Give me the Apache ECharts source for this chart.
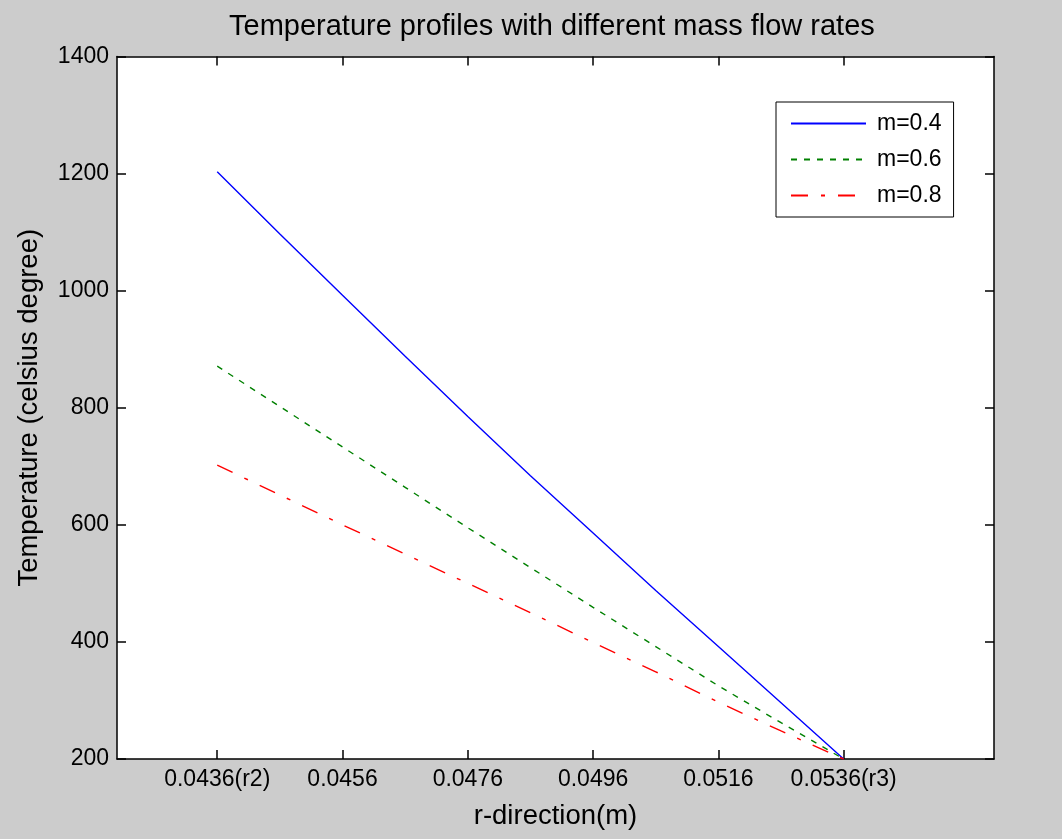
<!DOCTYPE html>
<html>
<head>
<meta charset="utf-8">
<script src="https://cdn.jsdelivr.net/npm/echarts@6/dist/echarts.min.js"></script>
<style>
html,body{margin:0;padding:0;background:#cccccc;}
#chart{width:1062px;height:839px;}
</style>
</head>
<body>
<div id="chart"></div>
<script>
// ---- data ----
const rValues = [0.0436, 0.0446, 0.0456, 0.0466, 0.0476, 0.0486, 0.0496, 0.0506, 0.0516, 0.0526, 0.0536];
const tempM04 = [1203, 1097, 992, 888, 785, 684, 586, 488, 392, 296, 200];
const tempM06 = [871, 802, 733, 664, 595, 527, 459, 392, 325, 262, 200];
const tempM08 = [702, 651, 600, 550, 500, 450, 399, 349, 297, 248, 200];
const seriesNames = ['m=0.4', 'm=0.6', 'm=0.8'];
const xTickValues = [0.0436, 0.0456, 0.0476, 0.0496, 0.0516, 0.0536];
const xTickLabels = ['0.0436(r2)', '0.0456', '0.0476', '0.0496', '0.0516', '0.0536(r3)'];
const titleText = 'Temperature profiles with different mass flow rates';
const xName = 'r-direction(m)';
const yName = 'Temperature (celsius degree)';

const FONT = 'Liberation Sans, Arial, sans-serif';
const pairs = arr => rValues.map((r, i) => [r, arr[i]]);
const tickLabel = v => {
  let best = 0;
  xTickValues.forEach((t, i) => { if (Math.abs(t - v) < Math.abs(xTickValues[best] - v)) best = i; });
  return xTickLabels[best];
};

const chart = echarts.init(document.getElementById('chart'));
const axisLine = { show: true, onZero: false, lineStyle: { color: '#000', width: 1.5 } };
const tickStyle = { color: '#000', width: 1.5 };
chart.setOption({
  backgroundColor: '#cccccc',
  animation: false,
  title: {
    text: titleText,
    left: 229, top: 12, padding: 0,
    textStyle: { fontFamily: FONT, fontSize: 29, fontWeight: 'normal', color: '#000' }
  },
  legend: {
    orient: 'vertical',
    left: 776, top: 102,
    padding: [10, 12, 10, 14],
    itemWidth: 75, itemHeight: 14, itemGap: 13,
    backgroundColor: '#fff',
    borderColor: '#000', borderWidth: 1,
    itemStyle: { opacity: 0, borderWidth: 0 },
    textStyle: { fontFamily: FONT, fontSize: 23, color: '#000', lineHeight: 23, padding: [0, 0, 0, 6] },
    data: seriesNames
  },
  grid: { left: 117, top: 56.5, right: 68, bottom: 80, show: true, backgroundColor: '#fff', borderWidth: 0 },
  xAxis: [{
    type: 'value', min: 0.042, max: 0.056, position: 'bottom',
    name: xName, nameLocation: 'middle', nameGap: 43,
    nameTextStyle: { fontFamily: FONT, fontSize: 27.5, color: '#000' },
    axisLine: axisLine,
    axisTick: { show: true, inside: true, length: 9, customValues: xTickValues, lineStyle: tickStyle },
    axisLabel: { customValues: xTickValues, formatter: tickLabel, margin: 9, fontFamily: FONT, fontSize: 23, color: '#000' },
    splitLine: { show: false }
  }, {
    type: 'value', min: 0.042, max: 0.056, position: 'top',
    axisLine: axisLine,
    axisTick: { show: true, inside: true, length: 9, customValues: xTickValues, lineStyle: tickStyle },
    axisLabel: { show: false },
    splitLine: { show: false }
  }],
  yAxis: [{
    type: 'value', min: 200, max: 1400, interval: 200, position: 'left',
    name: yName, nameLocation: 'middle', nameGap: 74,
    nameTextStyle: { fontFamily: FONT, fontSize: 27.5, color: '#000' },
    axisLine: axisLine,
    axisTick: { show: true, inside: true, length: 9, lineStyle: tickStyle },
    axisLabel: { margin: 8, fontFamily: FONT, fontSize: 23, color: '#000', formatter: v => String(v) },
    splitLine: { show: false }
  }, {
    type: 'value', min: 200, max: 1400, interval: 200, position: 'right',
    axisLine: axisLine,
    axisTick: { show: true, inside: true, length: 9, lineStyle: tickStyle },
    axisLabel: { show: false },
    splitLine: { show: false }
  }],
  series: [
    { name: seriesNames[0], type: 'line', data: pairs(tempM04), symbol: 'none', color: '#0000ff',
      lineStyle: { color: '#0000ff', width: 1.4, type: 'solid' } },
    { name: seriesNames[1], type: 'line', data: pairs(tempM06), symbol: 'none', color: '#008000',
      lineStyle: { color: '#008000', width: 1.4, type: [6, 7] } },
    { name: seriesNames[2], type: 'line', data: pairs(tempM08), symbol: 'none', color: '#ff0000',
      lineStyle: { color: '#ff0000', width: 1.4, type: [17, 13, 4, 13] } }
  ]
});
</script>
</body>
</html>
